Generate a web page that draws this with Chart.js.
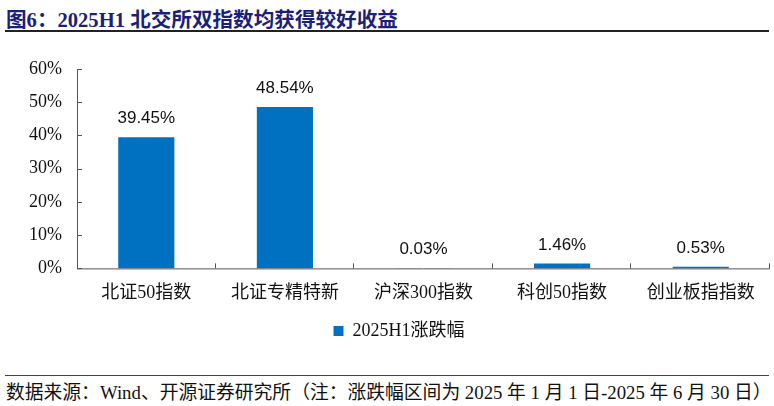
<!DOCTYPE html>
<html>
<head>
<meta charset="utf-8">
<script src="https://cdn.jsdelivr.net/npm/chart.js@4.4.1/dist/chart.umd.min.js"></script>
<style>
  body { margin: 0; background: #fff; }
  #wrap { position: relative; width: 774px; height: 406px; overflow: hidden; }
  #title {
    position: absolute; left: 6px; top: 3px;
    font: bold 20.6px "Liberation Serif", "Noto Sans CJK SC", serif;
    color: #1c1f78; white-space: nowrap;
  }
  #line1 { position: absolute; left: 5px; top: 30px; width: 764px; height: 2px; background: #222; }
  #box { position: absolute; left: 0; top: 40px; width: 774px; height: 320px; }
  #line2 { position: absolute; left: 5px; top: 375px; width: 764px; height: 1px; background: #444; }
  #source {
    position: absolute; left: 6px; top: 377px;
    font: 18.8px "Liberation Serif", "Noto Sans CJK SC", serif;
    color: #111; white-space: nowrap;
  }
</style>
</head>
<body>
<div id="wrap">
  <div id="title">图6：2025H1 北交所双指数均获得较好收益</div>
  <div id="line1"></div>
  <div id="box"><canvas id="chart"></canvas></div>
  <div id="line2"></div>
  <div id="source">数据来源：Wind、开源证券研究所（注：涨跌幅区间为 2025 年 1 月 1 日-2025 年 6 月 30 日）</div>
</div>
<script>
// 数据
const categories = ["北证50指数", "北证专精特新", "沪深300指数", "科创50指数", "创业板指指数"];
const seriesName = "2025H1涨跌幅";
const changes = [39.45, 48.54, 0.03, 1.46, 0.53];
const yTicks = [0, 10, 20, 30, 40, 50, 60];

const axisColor = "#555";

// 刻度线画在坐标轴内侧
const innerTicks = {
  id: "innerTicks",
  afterDraw(chart) {
    const ctx = chart.ctx;
    const x = chart.scales.x, y = chart.scales.y;
    ctx.save();
    ctx.strokeStyle = axisColor;
    ctx.lineWidth = 1;
    ctx.beginPath();
    // y 轴
    ctx.moveTo(x.left + 0.5, y.top);
    ctx.lineTo(x.left + 0.5, y.bottom + 0.5);
    yTicks.forEach(v => {
      const py = Math.round(y.getPixelForValue(v)) + 0.5;
      ctx.moveTo(x.left, py);
      ctx.lineTo(x.left + 5, py);
    });
    // x 轴
    ctx.moveTo(x.left, y.bottom + 0.5);
    ctx.lineTo(x.right, y.bottom + 0.5);
    const w = (x.right - x.left) / categories.length;
    for (let i = 1; i <= categories.length; i++) {
      const px = Math.round(x.left + i * w) - 0.5;
      ctx.moveTo(px, y.bottom);
      ctx.lineTo(px, y.bottom - 5);
    }
    ctx.stroke();
    ctx.restore();
  }
};

// 柱顶数值
const barLabels = {
  id: "barLabels",
  afterDatasetsDraw(chart) {
    const ctx = chart.ctx;
    const meta = chart.getDatasetMeta(0);
    ctx.save();
    ctx.font = '17px "Liberation Sans", Arial, sans-serif';
    ctx.fillStyle = "#111";
    ctx.textAlign = "center";
    ctx.textBaseline = "bottom";
    meta.data.forEach((bar, i) => {
      ctx.fillText(changes[i].toFixed(2) + "%", bar.x, bar.y - 10);
    });
    ctx.restore();
  }
};

// 图例稍微右移
const legendShift = {
  id: "legendShift",
  afterLayout(chart) {
    chart.legend.left += 14;
    chart.legend.right += 14;
  }
};

const ctx = document.getElementById("chart").getContext("2d");
window.chart = new Chart(ctx, {
  type: "bar",
  data: {
    labels: categories,
    datasets: [{
      label: seriesName,
      data: changes,
      backgroundColor: "#0070c0",
      borderWidth: 0,
      categoryPercentage: 1,
      barPercentage: 0.405
    }]
  },
  options: {
    responsive: true,
    maintainAspectRatio: false,
    animation: false,
    layout: { padding: { left: 0, right: 4, top: 29, bottom: 10 } },
    scales: {
      x: {
        grid: { display: false, drawTicks: false },
        border: { display: false },
        ticks: {
          padding: 14,
          color: "#111",
          font: { family: '"Liberation Serif", "Noto Sans CJK SC", serif', size: 18 }
        }
      },
      y: {
        min: 0,
        max: 60,
        afterFit: s => { s.width = 77; },
        afterBuildTicks: s => { s.ticks = yTicks.map(v => ({ value: v })); },
        grid: { display: false, drawTicks: false },
        border: { display: false },
        ticks: {
          padding: 15,
          color: "#111",
          font: { family: '"Liberation Serif", serif', size: 18 },
          callback: v => v + "%"
        }
      }
    },
    plugins: {
      legend: {
        position: "bottom",
        labels: {
          boxWidth: 10,
          boxHeight: 10,
          padding: 4,
          color: "#111",
          font: { family: '"Liberation Serif", "Noto Sans CJK SC", serif', size: 18 }
        }
      },
      tooltip: { enabled: false }
    }
  },
  plugins: [innerTicks, barLabels, legendShift]
});
</script>
</body>
</html>
